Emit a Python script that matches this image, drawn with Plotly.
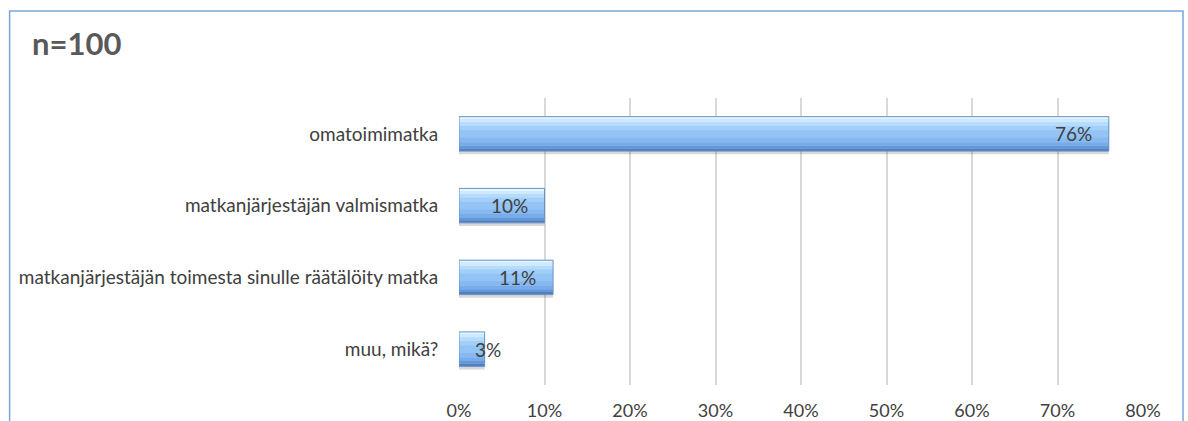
import plotly.graph_objects as go

# Survey answers, listed bottom-up so the first option sits at the top
categories = [
    "muu, mikä?",
    "matkanjärjestäjän toimesta sinulle räätälöity matka",
    "matkanjärjestäjän valmismatka",
    "omatoimimatka",
]
shares = [0.03, 0.11, 0.10, 0.76]
labels = ["3%", "11%", "10%", "76%"]
tick_vals = [0, 0.1, 0.2, 0.3, 0.4, 0.5, 0.6, 0.7, 0.8]
tick_text = ["0%", "10%", "20%", "30%", "40%", "50%", "60%", "70%", "80%"]

FONT = "Lato"
TEXT = "#404040"
BAR_W = 0.48
HALF = BAR_W / 2

fig = go.Figure()


def layer(offset, width, color):
    fig.add_trace(go.Bar(
        y=categories, x=shares, orientation="h",
        width=width, offset=offset,
        marker=dict(color=color, line=dict(width=0)),
        hoverinfo="skip",
    ))


# soft drop shadow under each bar
layer(-HALF - 0.045, BAR_W, "rgba(60,60,60,0.20)")
# bar body, shaded top (light) to bottom (dark)
layer(-HALF, BAR_W, "#94c4f5")
shades = [
    (-HALF, 0.035, "#4f7fbf"),
    (-HALF + 0.035, 0.04, "#6597d8"),
    (-HALF + 0.075, 0.05, "#78abe9"),
    (-HALF + 0.125, 0.06, "#87b9f1"),
    (HALF - 0.19, 0.06, "#a2cff9"),
    (HALF - 0.13, 0.05, "#b6dcfd"),
    (HALF - 0.08, 0.045, "#cfeaff"),
    (HALF - 0.035, 0.035, "#e6f5ff"),
]
for off, w, c in shades:
    layer(off, w, c)
# outline
fig.add_trace(go.Bar(
    y=categories, x=shares, orientation="h",
    width=BAR_W, offset=-HALF,
    marker=dict(color="rgba(0,0,0,0)", line=dict(width=1, color="#6a93c8")),
    hoverinfo="skip",
))

# value labels at the inner end of each bar
for cat, v, lab in zip(categories, shares, labels):
    if v < 0.05:
        fig.add_annotation(x=0, y=cat, text=lab, showarrow=False,
                           xanchor="left", xshift=14,
                           font=dict(family=FONT, size=19, color=TEXT))
    else:
        fig.add_annotation(x=v, y=cat, text=lab, showarrow=False,
                           xanchor="right", xshift=-15,
                           font=dict(family=FONT, size=19, color=TEXT))

# title
fig.add_annotation(x=-0.658, xref="paper", y=1.19, yref="paper",
                   text="<b>n=100</b>", showarrow=False,
                   xanchor="left", yanchor="middle", xshift=21,
                   font=dict(family=FONT, size=31, color="#595959"))

# outer frame
fig.add_shape(type="rect", xref="paper", yref="paper",
              x0=-0.657, x1=1.0585, y0=-0.3, y1=1.303,
              line=dict(color="#78a6dc", width=1.5), layer="below")

fig.update_layout(
    width=1188, height=421,
    margin=dict(l=459, r=45, t=98, b=36),
    paper_bgcolor="white", plot_bgcolor="white",
    barmode="overlay", showlegend=False,
    font=dict(family=FONT, size=19, color=TEXT),
    xaxis=dict(
        range=[0, 0.8], tickvals=tick_vals, ticktext=tick_text,
        showgrid=True, gridcolor="#d9d9d9", gridwidth=1.5,
        zeroline=False, showline=False,
        ticks="outside", ticklen=9, tickcolor="rgba(0,0,0,0)",
        tickfont=dict(family=FONT, size=18, color=TEXT),
        automargin=False, fixedrange=True,
    ),
    yaxis=dict(
        categoryorder="array", categoryarray=categories,
        showgrid=False, zeroline=False, showline=False,
        ticks="outside", ticklen=16, tickcolor="rgba(0,0,0,0)",
        tickfont=dict(family=FONT, size=19, color=TEXT),
        automargin=False, fixedrange=True,
    ),
)

fig.write_html("out.html")
